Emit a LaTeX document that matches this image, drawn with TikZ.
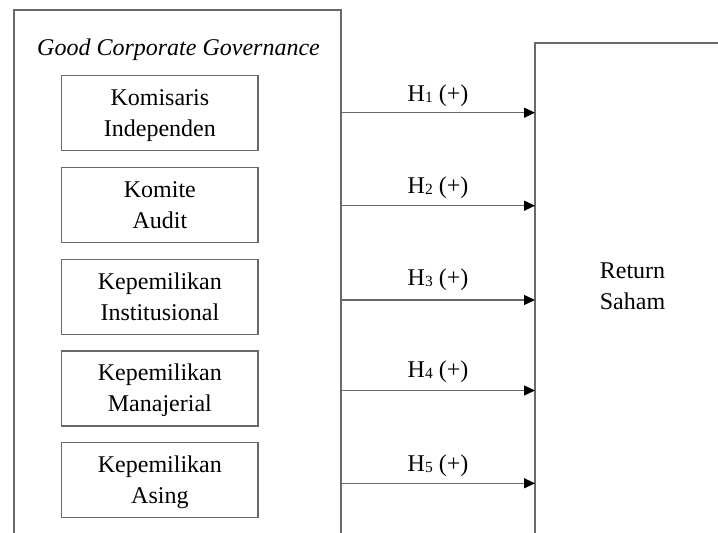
\documentclass[tikz,border=0pt]{standalone}
\usepackage{fontspec}
\setmainfont{Liberation Serif}
\usetikzlibrary{arrows.meta}
\definecolor{linegray}{RGB}{105,105,105}
\newcommand{\hsub}[1]{H\raisebox{-1.5pt}{\fontsize{15.5}{15.5}\selectfont #1}}
\begin{document}
\begin{tikzpicture}[x=1pt,y=-1pt,
  frame/.style={draw=linegray, line width=1.3pt, inner sep=0pt, outer sep=0pt},
  varbox/.style={frame, minimum width=196.3pt, minimum height=75pt, align=center,
    font=\fontsize{24}{31}\selectfont, text height=48pt, text depth=1pt},
  txt/.style={font=\fontsize{24}{31}\selectfont, inner sep=0pt, outer sep=0pt},
  hyp/.style={draw=linegray, line width=1.3pt, -{Triangle[length=11pt,width=10pt,color=black]}},
  hlabel/.style={txt, anchor=base}
]
\useasboundingbox (0,0) rectangle (718,533);
\fill[white] (0,0) rectangle (718,533);
\clip (0,0) rectangle (718,533);
% outer frames (open at the bottom / right edge of the picture)
\node[frame, minimum width=327pt, minimum height=600pt, anchor=north west] (gcg) at (14,10) {};
\node[frame, minimum width=250pt, minimum height=600pt, anchor=north west] (rs) at (535,43) {};
% titles
\node[txt, anchor=base, font=\fontsize{24}{31}\selectfont\itshape] (title) at (178.5,55) {Good Corporate Governance};
\node[txt, align=center, anchor=base] (rstext) at (632.5,309) {Return\\Saham};
% variable boxes
\node[varbox] (v1) at (159.85,113.2) {Komisaris\\Independen};
\node[varbox] (v2) at (159.85,204.95) {Komite\\Audit};
\node[varbox] (v3) at (159.85,296.7) {Kepemilikan\\Institusional};
\node[varbox] (v4) at (159.85,388.45) {Kepemilikan\\Manajerial};
\node[varbox] (v5) at (159.85,480.2) {Kepemilikan\\Asing};
% arrow levels
\coordinate (a1) at (0,112.7);
\coordinate (a2) at (0,205.7);
\coordinate (a3) at (0,300);
\coordinate (a4) at (0,390.5);
\coordinate (a5) at (0,483.3);
% hypotheses
\draw[hyp] (gcg.east |- a1) -- (rs.west |- a1) node[midway, hlabel, yshift=11.7pt] (h1) {\hsub{1} (+)};
\draw[hyp] (gcg.east |- a2) -- (rs.west |- a2) node[midway, hlabel, yshift=12.4pt] (h2) {\hsub{2} (+)};
\draw[hyp] (gcg.east |- a3) -- (rs.west |- a3) node[midway, hlabel, yshift=15pt] (h3) {\hsub{3} (+)};
\draw[hyp] (gcg.east |- a4) -- (rs.west |- a4) node[midway, hlabel, yshift=13.5pt] (h4) {\hsub{4} (+)};
\draw[hyp] (gcg.east |- a5) -- (rs.west |- a5) node[midway, hlabel, yshift=12.3pt] (h5) {\hsub{5} (+)};
\end{tikzpicture}
\end{document}
